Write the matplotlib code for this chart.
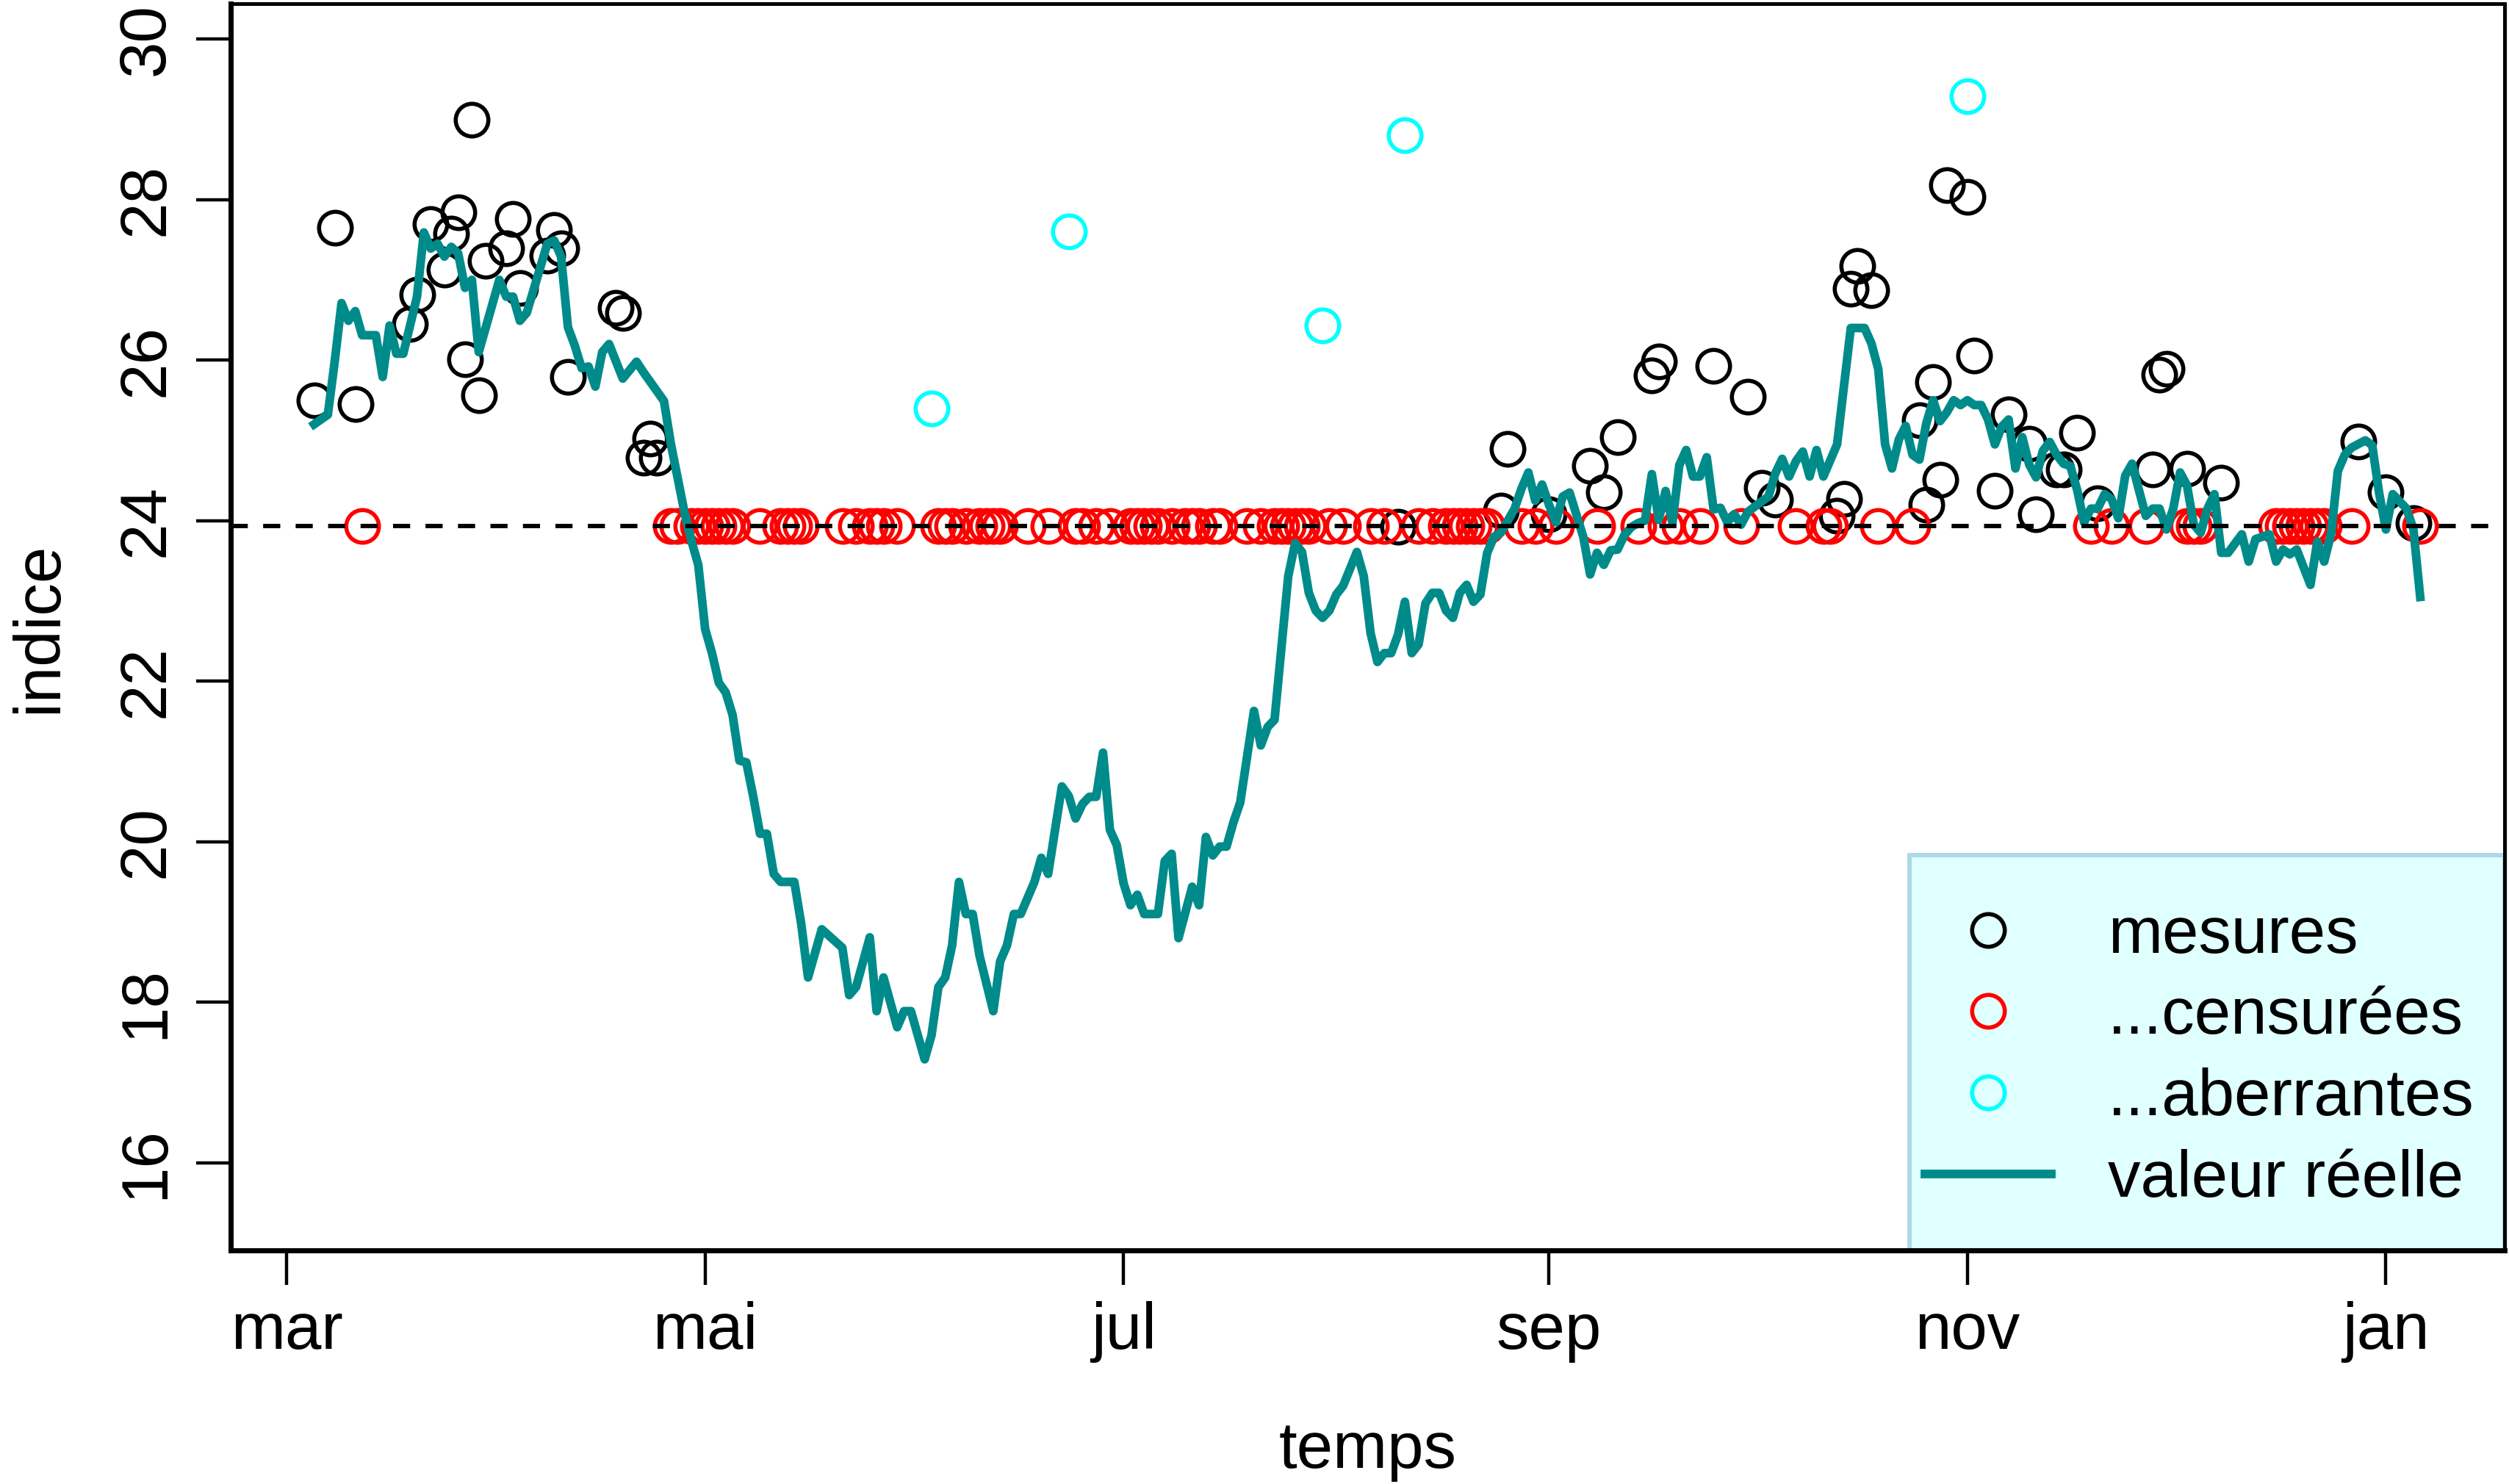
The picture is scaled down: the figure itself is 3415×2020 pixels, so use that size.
import numpy as np
import pandas as pd
import matplotlib
matplotlib.use("Agg")
import matplotlib.pyplot as plt
import matplotlib.dates as mdates
from matplotlib.lines import Line2D
from matplotlib.patches import Rectangle

plt.rcParams['font.family'] = ['Liberation Sans', 'DejaVu Sans']

debut = pd.Timestamp('2013-03-01')

# valeur réelle : jours depuis le 1er mars, indice
jours_reel = [4, 6, 7, 8, 9, 10, 11, 13, 14, 15, 16, 17, 19, 20, 21, 22, 23, 24, 25, 26,
              27, 28, 31, 32, 33, 34, 35, 38, 39, 40, 41, 42, 43, 44, 45, 46, 47, 49, 51, 52,
              55, 56, 57, 58, 59, 60, 61, 62, 63, 64, 65, 66, 67, 68, 69, 70, 71, 72, 74, 75,
              76, 78, 81, 82, 83, 85, 86, 87, 89, 90, 91, 93, 94, 95, 96, 97, 98, 99, 100, 101,
              103, 104, 105, 106, 107, 109, 110, 111, 113, 114, 115, 116, 117, 118, 119, 120, 121, 122, 123, 124,
              125, 127, 128, 129, 130, 132, 133, 134, 135, 136, 137, 138, 139, 141, 142, 143, 144, 146, 147, 148,
              149, 150, 151, 152, 153, 154, 156, 157, 158, 159, 160, 161, 162, 163, 164, 165, 166, 167, 168, 169,
              170, 171, 172, 173, 174, 175, 176, 177, 179, 180, 181, 182, 183, 184, 185, 186, 187, 189, 190, 191,
              192, 193, 194, 195, 196, 197, 198, 199, 200, 201, 202, 203, 204, 205, 206, 207, 208, 209, 210, 211,
              212, 213, 215, 216, 217, 218, 219, 220, 221, 222, 223, 224, 226, 228, 230, 231, 232, 233, 234, 235,
              236, 237, 238, 239, 240, 241, 242, 243, 244, 245, 246, 247, 248, 249, 250, 251, 252, 253, 254, 255,
              256, 257, 258, 259, 260, 261, 262, 263, 264, 265, 266, 267, 268, 269, 270, 271, 272, 273, 274, 275,
              276, 277, 278, 279, 280, 281, 282, 283, 285, 286, 287, 289, 290, 291, 292, 293, 295, 296, 297, 298,
              299, 300, 301, 303, 304, 305, 306, 307, 308, 309, 310, 311]
valeur_reelle = [25.20, 25.32, 25.98, 26.71, 26.49, 26.61, 26.31, 26.31, 25.79, 26.43, 26.08, 26.08, 26.79, 27.59, 27.39, 27.45, 27.29, 27.41, 27.33, 26.90,
                 27.00, 26.10, 27.00, 26.79, 26.79, 26.49, 26.59, 27.45, 27.49, 27.29, 26.41, 26.18, 25.90, 25.92, 25.67, 26.10, 26.20, 25.77, 25.98, 25.85,
                 25.49, 24.96, 24.53, 24.10, 23.75, 23.45, 22.65, 22.35, 21.98, 21.86, 21.58, 21.01, 20.99, 20.57, 20.10, 20.10, 19.60, 19.50, 19.50, 18.98,
                 18.31, 18.91, 18.68, 18.09, 18.19, 18.81, 17.89, 18.31, 17.69, 17.89, 17.89, 17.29, 17.59, 18.19, 18.31, 18.71, 19.50, 19.10, 19.10, 18.58,
                 17.89, 18.51, 18.71, 19.10, 19.10, 19.50, 19.80, 19.60, 20.69, 20.57, 20.29, 20.47, 20.56, 20.56, 21.11, 20.15, 19.96, 19.48, 19.21, 19.34,
                 19.10, 19.10, 19.76, 19.85, 18.80, 19.44, 19.21, 20.06, 19.83, 19.94, 19.94, 20.24, 20.49, 21.63, 21.20, 21.43, 21.52, 23.31, 23.72, 23.61,
                 23.10, 22.88, 22.79, 22.88, 23.08, 23.19, 23.61, 23.31, 22.60, 22.24, 22.35, 22.35, 22.58, 22.99, 22.35, 22.46, 22.97, 23.10, 23.10, 22.88,
                 22.79, 23.10, 23.20, 22.99, 23.08, 23.60, 23.80, 23.85, 24.15, 24.40, 24.60, 24.25, 24.45, 24.20, 23.98, 24.30, 24.35, 23.80, 23.33, 23.60,
                 23.45, 23.63, 23.64, 23.82, 23.92, 23.97, 24.00, 24.58, 24.01, 24.37, 23.97, 24.69, 24.88, 24.55, 24.55, 24.79, 24.14, 24.16, 23.98, 24.08,
                 23.95, 24.11, 24.24, 24.30, 24.59, 24.77, 24.55, 24.74, 24.86, 24.55, 24.88, 24.55, 24.95, 26.40, 26.40, 26.21, 25.89, 24.95, 24.65, 25.01,
                 25.18, 24.82, 24.76, 25.21, 25.50, 25.24, 25.35, 25.50, 25.44, 25.50, 25.44, 25.44, 25.26, 24.95, 25.17, 25.26, 24.65, 25.04, 24.70, 24.54,
                 24.87, 24.98, 24.82, 24.71, 24.68, 24.38, 23.98, 24.15, 24.15, 24.33, 24.27, 24.03, 24.56, 24.71, 24.38, 24.06, 24.15, 24.15, 23.89, 24.15,
                 24.60, 24.44, 23.95, 23.85, 24.15, 24.33, 23.60, 23.60, 23.83, 23.49, 23.77, 23.83, 23.49, 23.64, 23.58, 23.64, 23.20, 23.74, 23.49, 23.83,
                 24.62, 24.82, 24.91, 25.00, 24.94, 24.35, 23.89, 24.33, 24.24, 24.15, 23.90, 23.05]

# mesures valides
jours_mes = [4, 7, 10, 18, 19, 21, 23, 24, 25, 26, 27, 28, 29, 32, 33, 34, 38, 39, 40, 41,
             48, 49, 52, 53, 54, 162, 177, 178, 184, 190, 192, 194, 199, 200, 208, 213, 215, 217, 226, 227,
             228, 229, 231, 238, 239, 240, 241, 242, 245, 246, 249, 251, 254, 255, 258, 259, 261, 264, 272, 273,
             274, 277, 282, 302, 306, 310]
mesures = [25.50, 27.65, 25.45, 26.45, 26.82, 27.69, 27.13, 27.58, 27.84, 26.01, 28.99, 25.56, 27.24, 27.39, 27.76, 26.90, 27.30, 27.62, 27.39, 25.79,
           26.65, 26.59, 24.78, 25.02, 24.78, 23.92, 24.13, 24.89, 24.08, 24.68, 24.35, 25.04, 25.81, 25.98, 25.93, 25.54, 24.41, 24.26, 24.06, 24.27,
           26.89, 27.17, 26.87, 25.25, 24.20, 25.73, 24.51, 28.18, 28.03, 26.06, 24.37, 25.32, 24.96, 24.08, 24.64, 24.64, 25.10, 24.22, 24.64, 25.82,
           25.89, 24.65, 24.47, 24.99, 24.35, 23.97]

# mesures censurées (sous le seuil)
seuil = 23.93
jours_cens = [11, 56, 57, 59, 60, 61, 62, 63, 64, 65, 69, 72, 73, 74, 75, 81, 83, 85, 86, 87,
              89, 95, 96, 97, 99, 101, 102, 103, 104, 108, 111, 115, 116, 118, 120, 123, 124, 125, 126, 127,
              129, 131, 132, 133, 135, 136, 140, 142, 144, 145, 146, 147, 148, 149, 152, 154, 158, 160, 165, 167,
              169, 170, 171, 172, 173, 174, 175, 180, 182, 185, 191, 197, 201, 203, 206, 212, 220, 224, 225, 232,
              237, 263, 266, 271, 277, 278, 279, 290, 291, 292, 293, 294, 295, 296, 297, 301, 311]

# mesures aberrantes
jours_aber = [94, 114, 151, 163, 245]
aberrantes = [25.40, 27.60, 26.43, 28.80, 29.29]

mois_ticks = ['2013-03-01', '2013-05-01', '2013-07-01', '2013-09-01', '2013-11-01', '2014-01-01']
mois_labels = ['mar', 'mai', 'jul', 'sep', 'nov', 'jan']


def en_dates(jours):
    return debut + pd.to_timedelta(jours, unit='D')


fs = 64
fig = plt.figure(figsize=(34.15, 20.2), dpi=100)
ax = fig.add_axes([313.6 / 3415, 1 - 1702 / 2020, 3095.4 / 3415, 1697 / 2020])

ms = 32
mew = 4.0
lw_reel = 8.5
ax.plot(en_dates(jours_mes), mesures, 'o', mfc='none', mec='black', ms=ms, mew=mew, zorder=2)
ax.plot(en_dates(jours_cens), [seuil] * len(jours_cens), 'o', mfc='none', mec='red', ms=ms, mew=mew, zorder=2)
ax.plot(en_dates(jours_aber), aberrantes, 'o', mfc='none', mec='cyan', ms=ms, mew=mew, zorder=2)
ax.plot(en_dates(jours_reel), valeur_reelle, '-', color='darkcyan', lw=lw_reel, zorder=3)
ax.axhline(seuil, color='black', lw=4.3, dashes=(3.9, 3.5), zorder=3.5)

x0 = mdates.date2num(debut - pd.Timedelta(days=8.2))
x1 = mdates.date2num(debut + pd.Timedelta(days=323.3))
ax.set_xlim(x0, x1)
ax.set_ylim(14.91, 30.44)

ax.set_xticks(pd.to_datetime(mois_ticks))
ax.set_xticklabels(mois_labels, fontsize=fs)
ax.set_yticks(np.arange(16, 31, 2))
ax.set_yticklabels([str(v) for v in range(16, 31, 2)], fontsize=fs, rotation=90, va='center')
ax.tick_params(axis='both', length=34, width=3.2, direction='out')
ax.tick_params(axis='x', pad=16)
ax.tick_params(axis='y', pad=18)

for side in ['left', 'bottom']:
    ax.spines[side].set_linewidth(5.0)
for side in ['top', 'right']:
    ax.spines[side].set_linewidth(3.6)

ax.set_xlabel('temps', fontsize=fs, va='center')
ax.xaxis.set_label_coords(0.5, -0.161)
ax.set_ylabel('indice', fontsize=fs, va='center')
ax.yaxis.set_label_coords(-0.0839, 0.5)

# cadre de la légende
ax.add_patch(Rectangle((0.7382, 0.0), 0.2618, 0.317, transform=ax.transAxes,
                       facecolor='#E0FFFF', edgecolor='#ADD8E6', lw=4.3, zorder=2.4, clip_on=False))

handles = [
    Line2D([], [], ls='none', marker='o', mfc='none', mec='black', ms=ms, mew=mew),
    Line2D([], [], ls='none', marker='o', mfc='none', mec='red', ms=ms, mew=mew),
    Line2D([], [], ls='none', marker='o', mfc='none', mec='cyan', ms=ms, mew=mew),
    Line2D([], [], color='darkcyan', lw=lw_reel),
]
labels = ['mesures', '...censurées', '...aberrantes', 'valeur réelle']
leg = ax.legend(handles, labels, loc='center left', bbox_to_anchor=(0.7451, 0.1545),
                frameon=False, fontsize=fs, borderpad=0, borderaxespad=0,
                handlelength=1.93, handletextpad=0.87, labelspacing=0.30, numpoints=1)
leg.set_zorder(5)

fig.savefig('out.png', dpi=100)
